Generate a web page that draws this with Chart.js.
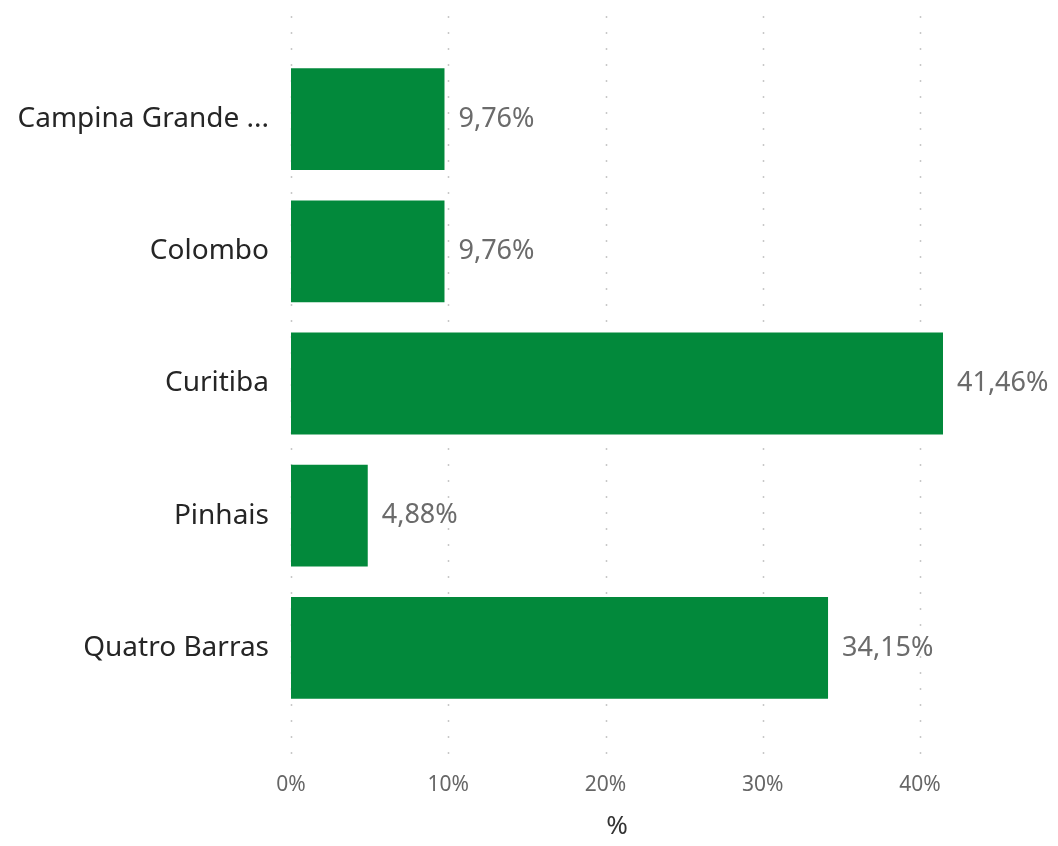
<!DOCTYPE html>
<html>
<head>
<meta charset="utf-8">
<script src="https://cdn.jsdelivr.net/npm/chart.js@4"></script>
<style>
  html, body { margin: 0; padding: 0; background: #fff; }
  #wrap { width: 1058px; height: 846px; }
</style>
</head>
<body>
<div id="wrap"><canvas id="barChart" width="1058" height="846"></canvas></div>
<script>
    // chart data
    const cities = ['Campina Grande do Sul', 'Colombo', 'Curitiba', 'Pinhais', 'Quatro Barras'];
    const shares = [9.76, 9.76, 41.46, 4.88, 34.15];
    const xTicks = [0, 10, 20, 30, 40];

    const fmt = v => v.toFixed(2).replace('.', ',') + '%';

    // dotted vertical lines, extending past the bars like the original
    const dottedGrid = {
        id: 'dottedGrid',
        beforeDatasetsDraw(chart) {
            const ctx = chart.ctx;
            const x = chart.scales.x;
            ctx.save();
            ctx.strokeStyle = '#c8c8c8';
            ctx.lineWidth = 1.5;
            ctx.setLineDash([2, 14]);
            xTicks.forEach(t => {
                const px = Math.round(x.getPixelForValue(t)) + 0.5;
                ctx.beginPath();
                ctx.moveTo(px, 16);
                ctx.lineTo(px, 756);
                ctx.stroke();
            });
            ctx.restore();
        }
    };

    // value labels at the end of each bar
    const barValues = {
        id: 'barValues',
        afterDatasetsDraw(chart) {
            const ctx = chart.ctx;
            const meta = chart.getDatasetMeta(0);
            ctx.save();
            ctx.font = '27px "Noto Sans", sans-serif';
            ctx.fillStyle = '#6b6b6b';
            ctx.textAlign = 'left';
            ctx.textBaseline = 'middle';
            meta.data.forEach((bar, i) => {
                ctx.fillText(fmt(shares[i]), bar.x + 14, bar.y);
            });
            ctx.restore();
        }
    };

    new Chart(document.getElementById('barChart').getContext('2d'), {
        type: 'bar',
        data: {
            labels: cities,
            datasets: [{
                data: shares,
                backgroundColor: '#02893b',
                barPercentage: 0.77,
                categoryPercentage: 1
            }]
        },
        options: {
            indexAxis: 'y',
            responsive: false,
            animation: false,
            layout: { padding: { top: 53, right: 115, left: 0, bottom: 0 } },
            plugins: {
                legend: { display: false },
                tooltip: { enabled: false }
            },
            scales: {
                x: {
                    min: 0,
                    max: 41.46,
                    afterBuildTicks: scale => {
                        scale.ticks = xTicks.map(v => ({ value: v }));
                    },
                    afterFit: scale => { scale.height = 132; },
                    grid: { display: false },
                    border: { display: false },
                    ticks: {
                        padding: 50,
                        color: '#666',
                        font: { family: 'Noto Sans', size: 21 },
                        callback: v => v + '%'
                    },
                    title: {
                        display: true,
                        text: '%',
                        color: '#333',
                        padding: { top: 8 },
                        font: { family: 'Noto Sans', size: 26 }
                    }
                },
                y: {
                    afterFit: scale => { scale.width = 291; },
                    grid: { display: false },
                    border: { display: false },
                    ticks: {
                        padding: 14,
                        color: '#252525',
                        font: { family: 'Noto Sans', size: 28 },
                        callback: function (v) {
                            const s = this.getLabelForValue(v);
                            return s.length > 15 ? s.slice(0, 14) + ' ...' : s;
                        }
                    }
                }
            }
        },
        plugins: [dottedGrid, barValues]
    });
</script>
</body>
</html>
